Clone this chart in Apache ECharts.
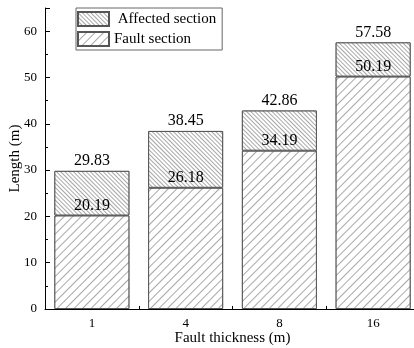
<!DOCTYPE html>
<html>
<head>
<meta charset="utf-8">
<script src="https://cdn.jsdelivr.net/npm/echarts@6/dist/echarts.min.js"></script>
<style>
  html, body { margin: 0; padding: 0; background: #fff; }
  #main { width: 414px; height: 348px; }
</style>
</head>
<body>
<div id="main"></div>
<script>
const categories = ['1', '4', '8', '16'];
const faultSection = [20.19, 26.18, 34.19, 50.19];
const totalLength = [29.83, 38.45, 42.86, 57.58];
const affectedSection = totalLength.map((t, i) => +(t - faultSection[i]).toFixed(2));

const font = 'Liberation Serif';

window.onload = function () {
  const myChart = echarts.init(document.getElementById('main'));
  const option = {
    animation: false,
    textStyle: { fontFamily: font },
    grid: { left: 45, right: -6, top: 8, bottom: 39, outerBoundsMode: 'none', containLabel: false },
    legend: {
      left: 76,
      top: 8,
      orient: 'vertical',
      itemWidth: 31,
      itemHeight: 14,
      itemGap: 4,
      padding: [3, 6, 3, 1],
      borderColor: '#666',
      borderWidth: 1,
      borderRadius: 0,
      textStyle: { fontFamily: font, fontSize: 15, color: '#000' },
      data: [
        { name: 'Affected section', icon: 'rect' },
        { name: 'Fault section', icon: 'rect' }
      ],
      formatter: function (name) {
        return name === 'Affected section' ? ' ' + name : name;
      }
    },
    xAxis: [{
      type: 'category',
      data: categories,
      name: 'Fault thickness (m)',
      nameLocation: 'middle',
      nameGap: 22,
      nameMoveOverlap: false,
      nameTextStyle: { fontFamily: font, fontSize: 15, color: '#000' },
      axisLine: { lineStyle: { color: '#000', width: 1 } },
      axisTick: { inside: true, alignWithLabel: true, length: 5, lineStyle: { color: '#000' } },
      axisLabel: { fontFamily: font, fontSize: 13, color: '#000', margin: 8 }
    }, {
      type: 'value',
      min: 0,
      max: 4,
      interval: 1,
      position: 'bottom',
      axisLine: { show: false },
      axisTick: { inside: true, length: 3, lineStyle: { color: '#000' } },
      axisLabel: { show: false },
      splitLine: { show: false }
    }],
    yAxis: {
      type: 'value',
      min: 0,
      max: 65,
      interval: 10,
      name: 'Length (m)',
      nameLocation: 'middle',
      nameGap: 22,
      nameMoveOverlap: false,
      nameTextStyle: { fontFamily: font, fontSize: 15, color: '#000' },
      axisLine: { show: true, lineStyle: { color: '#000', width: 1 } },
      axisTick: { show: true, inside: true, length: 5, lineStyle: { color: '#000' } },
      minorTick: { show: true, splitNumber: 2, length: 3, lineStyle: { color: '#000' } },
      axisLabel: { fontFamily: font, fontSize: 13, color: '#000', showMaxLabel: false, margin: 8 },
      splitLine: { show: false }
    },
    series: [
      {
        name: 'Fault section',
        type: 'bar',
        stack: 'len',
        barWidth: '80%',
        data: faultSection,
        itemStyle: {
          color: '#fff',
          borderColor: '#555',
          borderWidth: 1,
          decal: {
            symbol: 'rect',
            symbolSize: 1,
            color: '#a8a8a8',
            backgroundColor: '#fff',
            dashArrayX: [1, 0],
            dashArrayY: [1, 5],
            rotation: -Math.PI / 4
          }
        },
        label: {
          show: true,
          position: 'top',
          distance: 2,
          fontFamily: font,
          fontSize: 16,
          color: '#000'
        }
      },
      {
        name: 'Affected section',
        type: 'bar',
        stack: 'len',
        barWidth: '80%',
        data: affectedSection,
        itemStyle: {
          color: '#fff',
          borderColor: '#555',
          borderWidth: 1,
          decal: {
            symbol: 'rect',
            symbolSize: 1,
            color: '#a8a8a8',
            backgroundColor: '#fff',
            dashArrayX: [1, 0],
            dashArrayY: [1, 2],
            rotation: Math.PI / 4
          }
        },
        label: {
          show: true,
          position: 'top',
          distance: 2,
          fontFamily: font,
          fontSize: 16,
          color: '#000',
          formatter: function (p) { return totalLength[p.dataIndex].toFixed(2); }
        }
      }
    ]
  };
  myChart.setOption(option, true);
};
</script>
</body>
</html>
